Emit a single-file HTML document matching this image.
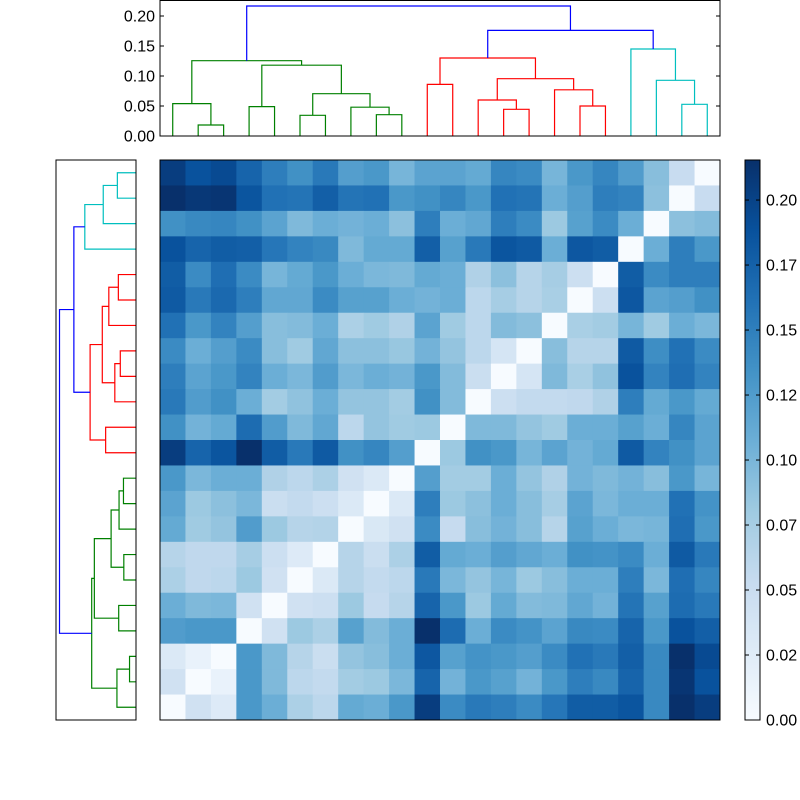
<!DOCTYPE html>
<html><head><meta charset="utf-8"><style>
html,body{margin:0;padding:0;background:#fff;}
svg{display:block;font-family:"Liberation Sans",sans-serif;}
</style></head><body>
<svg id="chart" width="800" height="800" viewBox="0 0 800 800" xmlns="http://www.w3.org/2000/svg">
<rect width="800" height="800" fill="#fff"/>
<g id="heat"></g>
<g id="topd"></g>
<g id="leftd"></g>
<g id="cbar"></g>
</svg>
<script>
// normalized distances (fraction of vmax), rows top to bottom
const vmax = 0.2154;
const normDist = [
[0.95,0.87,0.9,0.8,0.7,0.63,0.72,0.57,0.6,0.47,0.55, 0.55,0.52,0.67,0.65,0.47,0.6,0.67,0.58,0.43,0.24,0],
[1.0,0.97,0.98,0.86,0.75,0.74,0.82,0.74,0.75,0.6,0.63, 0.67,0.6,0.75,0.74,0.5,0.57,0.7,0.68,0.42,0,0.24],
[0.63,0.66,0.67,0.63,0.55,0.45,0.5,0.48,0.5,0.42,0.7, 0.5,0.53,0.7,0.65,0.38,0.56,0.65,0.5,0,0.42,0.44],
[0.87,0.8,0.83,0.82,0.73,0.68,0.66,0.45,0.52,0.52,0.82, 0.56,0.72,0.86,0.84,0.5,0.85,0.83,0,0.5,0.7,0.6],
[0.83,0.65,0.76,0.65,0.47,0.52,0.6,0.5,0.46,0.45,0.52, 0.5,0.32,0.42,0.3,0.35,0.22,0,0.83,0.65,0.7,0.7],
[0.84,0.72,0.78,0.7,0.53,0.53,0.65,0.56,0.56,0.5,0.48, 0.5,0.28,0.35,0.3,0.34,0,0.22,0.85,0.55,0.57,0.63],
[0.75,0.6,0.68,0.57,0.43,0.44,0.5,0.33,0.37,0.32,0.55, 0.37,0.28,0.44,0.42,0,0.34,0.36,0.47,0.37,0.5,0.46],
[0.65,0.5,0.57,0.65,0.43,0.37,0.53,0.42,0.42,0.39,0.48, 0.4,0.28,0.17,0,0.43,0.3,0.3,0.84,0.64,0.75,0.65],
[0.7,0.55,0.6,0.68,0.5,0.46,0.58,0.46,0.5,0.48,0.6, 0.44,0.23,0,0.17,0.45,0.34,0.41,0.87,0.68,0.76,0.68],
[0.72,0.58,0.63,0.5,0.36,0.41,0.5,0.4,0.4,0.36,0.63, 0.44,0,0.22,0.26,0.26,0.27,0.32,0.7,0.52,0.6,0.52],
[0.63,0.48,0.52,0.77,0.58,0.45,0.53,0.28,0.4,0.37,0.38, 0,0.45,0.45,0.4,0.37,0.5,0.5,0.56,0.5,0.67,0.55],
[0.95,0.8,0.86,1.0,0.83,0.72,0.84,0.63,0.67,0.57,0, 0.38,0.63,0.6,0.47,0.55,0.48,0.52,0.84,0.68,0.63,0.55],
[0.6,0.46,0.5,0.5,0.32,0.28,0.33,0.2,0.14,0,0.57, 0.36,0.36,0.5,0.4,0.32,0.48,0.45,0.48,0.43,0.6,0.47],
[0.55,0.38,0.42,0.46,0.23,0.26,0.22,0.14,0,0.14,0.7, 0.38,0.42,0.5,0.43,0.35,0.55,0.46,0.5,0.5,0.75,0.62],
[0.52,0.37,0.4,0.58,0.38,0.3,0.31,0,0.15,0.2,0.65, 0.25,0.43,0.48,0.43,0.3,0.56,0.5,0.46,0.47,0.76,0.6],
[0.3,0.27,0.27,0.35,0.22,0.13,0,0.3,0.23,0.33,0.83, 0.52,0.5,0.57,0.53,0.5,0.63,0.62,0.65,0.5,0.84,0.72],
[0.33,0.27,0.28,0.38,0.2,0,0.14,0.3,0.26,0.28,0.72, 0.46,0.4,0.47,0.38,0.43,0.5,0.5,0.7,0.46,0.76,0.67],
[0.5,0.45,0.46,0.2,0,0.2,0.22,0.38,0.25,0.3,0.8, 0.6,0.38,0.52,0.44,0.45,0.53,0.48,0.74,0.56,0.77,0.72],
[0.58,0.6,0.6,0,0.2,0.38,0.33,0.56,0.44,0.5,1.0, 0.77,0.5,0.65,0.62,0.55,0.66,0.65,0.8,0.6,0.87,0.82],
[0.14,0.07,0,0.6,0.45,0.3,0.23,0.4,0.43,0.5,0.85, 0.56,0.62,0.6,0.57,0.65,0.75,0.72,0.82,0.66,1.0,0.9],
[0.2,0,0.07,0.6,0.45,0.28,0.26,0.36,0.38,0.46,0.8, 0.48,0.6,0.56,0.48,0.6,0.7,0.66,0.8,0.66,0.98,0.87],
[0,0.2,0.13,0.6,0.5,0.33,0.28,0.52,0.5,0.6,0.95, 0.65,0.72,0.7,0.65,0.73,0.83,0.83,0.86,0.66,1.0,0.95]
];
// linkage: [childA, childB, height]; new cluster ids start at 22
const linkA = [1,5,8,13,7,3,16,20,0,12,23,15,10,19,31,27,30,34,18,39,38];
const linkB = [2,6,9,14,24,4,17,21,22,25,26,28,11,29,33,32,37,36,35,40,41];
const linkH = [0.0183,0.0345,0.0355,0.0445,0.048,0.049,0.05,0.0528,0.054,0.06,0.0705,0.077,0.086,0.0928,0.0955,0.118,0.1255,0.13,0.145,0.176,0.2167];
const linkColor = ['g','g','g','r','g','g','r','c','g','r','g','r','r','c','r','g','g','r','c','b','b'];
const dendroTicks = ['0.00','0.05','0.10','0.15','0.20'];
const dendroTickVals = [0,0.05,0.1,0.15,0.2];
const cbarTicks = ['0.00','0.02','0.05','0.07','0.10','0.12','0.15','0.17','0.20'];
const cbarTickVals = [0,0.025,0.05,0.075,0.1,0.125,0.15,0.175,0.2];

const NS='http://www.w3.org/2000/svg';
function mk(tag, attrs, parent){const e=document.createElementNS(NS,tag);for(const k in attrs)e.setAttribute(k,attrs[k]);parent.appendChild(e);return e;}
const blues=[[247,251,255],[222,235,247],[198,219,239],[158,202,225],[107,174,214],[66,146,198],[33,113,181],[8,81,156],[8,48,107]];
function cmap(t){t=Math.max(0,Math.min(1,t));const p=t*8;const i=Math.min(7,Math.floor(p));const f=p-i;const a=blues[i],b=blues[i+1];
return 'rgb('+[0,1,2].map(k=>Math.round(a[k]+(b[k]-a[k])*f)).join(',')+')';}

const N=normDist.length;
const HX0=160,HY0=160,HS=560,cell=HS/N;
const xCell=c=>HX0+c*cell, yCell=r=>HY0+r*cell;
const heat=document.getElementById('heat');
normDist.forEach((row,r)=>row.forEach((t,c)=>{
  const v=t*vmax;
  const e=mk('rect',{x:xCell(c),y:yCell(r),width:cell+0.5,height:cell+0.5,fill:cmap(v/vmax)},heat);
  
  
}));
const hb=mk('rect',{x:HX0,y:HY0,width:HS,height:HS,fill:'none',stroke:'#000','stroke-width':1},heat);



const colors={g:'#008000',r:'#ff0000',c:'#00bfbf',b:'#0000ff'};
// leaf positions in index units
const pos={},hgt={};
for(let i=0;i<N;i++){pos[i]=i+0.5;hgt[i]=0;}
linkA.forEach((a,k)=>{pos[N+k]=(pos[a]+linkB[k]*0+pos[linkB[k]])/2;hgt[N+k]=linkH[k];});

// top dendrogram
const topd=document.getElementById('topd');
const TX0=160,TW=560,TY0=136,TPX=600;
const tx=p=>TX0+p*cell, ty=h=>TY0-h*TPX;
linkA.forEach((a,k)=>{const b=linkB[k],h=linkH[k];
  const d='M'+tx(pos[a])+','+ty(hgt[a])+'V'+ty(h)+'H'+tx(pos[b])+'V'+ty(hgt[b]);
  const e=mk('path',{d:d,fill:'none',stroke:colors[linkColor[k]],'stroke-width':1.2},topd);
  
  
});
const tf=mk('rect',{x:TX0,y:0.5,width:TW,height:TY0-0.5,fill:'none',stroke:'#000','stroke-width':1},topd);


dendroTickVals.forEach((v,i)=>{const y=ty(v);
  mk('line',{x1:TX0,x2:TX0+4,y1:y,y2:y,stroke:'#000'},topd);
  mk('line',{x1:TX0+TW-4,x2:TX0+TW,y1:y,y2:y,stroke:'#000'},topd);
  const t=mk('text',{x:TX0-5,y:y+5.5,'text-anchor':'end','font-size':16,fill:'#000'},topd);
  
  
  t.textContent=dendroTicks[i];
});

// left dendrogram (leaf 0 at bottom)
const leftd=document.getElementById('leftd');
const LX1=136,LPX=353;
const lx=h=>LX1-h*LPX, ly=p=>HY0+HS-p*cell;
linkA.forEach((a,k)=>{const b=linkB[k],h=linkH[k];
  const d='M'+lx(hgt[a])+','+ly(pos[a])+'H'+lx(h)+'V'+ly(pos[b])+'H'+lx(hgt[b]);
  const e=mk('path',{d:d,fill:'none',stroke:colors[linkColor[k]],'stroke-width':1.2},leftd);
  
  
});
const lf=mk('rect',{x:56,y:HY0,width:80,height:HS,fill:'none',stroke:'#000','stroke-width':1},leftd);



// colorbar
const cb=document.getElementById('cbar');
const CX=745,CW=15,CY0=160,CH=560;
const defs=mk('defs',{},cb);
const grad=mk('linearGradient',{id:'bl',x1:0,y1:1,x2:0,y2:0},defs);
blues.forEach((c,i)=>mk('stop',{offset:(i/8),'stop-color':'rgb('+c.join(',')+')'},grad));
const cr=mk('rect',{x:CX,y:CY0,width:CW,height:CH,fill:'url(#bl)',stroke:'#000','stroke-width':1},cb);


const cy=v=>CY0+CH-v/vmax*CH;
cbarTickVals.forEach((v,i)=>{const y=cy(v);
  mk('line',{x1:CX,x2:CX+4,y1:y,y2:y,stroke:'#000'},cb);
  mk('line',{x1:CX+CW-4,x2:CX+CW,y1:y,y2:y,stroke:'#000'},cb);
  const t=mk('text',{x:CX+CW+6,y:y+5.5,'font-size':16,fill:'#000'},cb);
  
  
  t.textContent=cbarTicks[i];
});
</script>
</body></html>
